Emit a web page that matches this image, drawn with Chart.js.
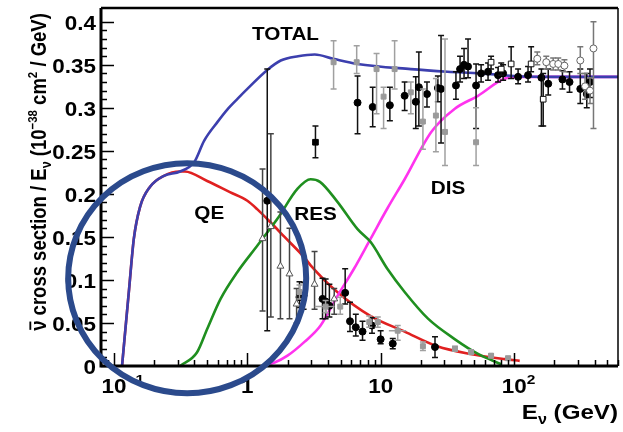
<!DOCTYPE html>
<html>
<head>
<meta charset="utf-8">
<script src="https://cdn.jsdelivr.net/npm/chart.js@4.4.1/dist/chart.umd.min.js"></script>
<style>
  html, body { margin: 0; padding: 0; background: #fff; }
  #wrap { width: 623px; height: 432px; }
</style>
</head>
<body>
<div id="wrap"><canvas id="xsec" width="623" height="432"></canvas></div>
<script>
// axis ticks
const xTickVals = [0.1, 1, 10, 100];
const xTickLabels = [['10', '\u22121'], ['1', ''], ['10', ''], ['10', '2']];
const yTickVals = [0, 0.05, 0.1, 0.15, 0.2, 0.25, 0.3, 0.35, 0.4];
const yTickLabels = ['0', '0.05', '0.1', '0.15', '0.2', '0.25', '0.3', '0.35', '0.4'];

// model curves (E in GeV, cross section / E)
const totalE = [0.115, 0.13, 0.141, 0.157, 0.186, 0.237, 0.313, 0.40, 0.475, 0.6, 0.707, 0.85, 1.0, 1.41, 1.78, 2.4, 3.2, 4.4, 6.7, 16.8, 31.7, 56, 100, 200, 600];
const totalY = [0, 0.09, 0.148, 0.185, 0.208, 0.221, 0.226, 0.237, 0.262, 0.284, 0.298, 0.311, 0.322, 0.344, 0.355, 0.360, 0.362, 0.357, 0.351, 0.345, 0.342, 0.340, 0.337, 0.336, 0.336];
const qeE = [0.115, 0.13, 0.141, 0.157, 0.186, 0.237, 0.313, 0.34, 0.5, 0.74, 1.0, 1.19, 1.49, 1.9, 2.68, 2.98, 4.72, 8.4, 15.1, 26.5, 47, 85, 110];
const qeY = [0, 0.09, 0.148, 0.185, 0.208, 0.221, 0.226, 0.226, 0.215, 0.202, 0.192, 0.182, 0.167, 0.150, 0.126, 0.117, 0.086, 0.058, 0.040, 0.023, 0.014, 0.008, 0.006];
const resE = [0.313, 0.42, 0.50, 0.63, 0.84, 1.19, 1.68, 2.38, 2.98, 3.5, 4.72, 6.7, 8.4, 11.2, 15.1, 22.6, 36, 53.6, 80];
const resY = [0, 0.016, 0.043, 0.078, 0.109, 0.140, 0.171, 0.206, 0.217, 0.214, 0.191, 0.159, 0.144, 0.113, 0.086, 0.055, 0.031, 0.014, 0.002];
const disE = [1.3, 1.6, 2.0, 2.68, 3.54, 4.72, 6.3, 8.4, 11.2, 15.1, 23.9, 35.9, 53.6, 85, 110, 200, 600];
const disY = [0, 0.004, 0.012, 0.028, 0.047, 0.081, 0.113, 0.148, 0.183, 0.217, 0.272, 0.299, 0.314, 0.334, 0.336, 0.336, 0.336];

// measurements: black filled circles
const blackE  = [1.41, 2.46, 2.64, 3.66, 3.86, 4.12, 5.41, 5.88, 6.5, 7.3, 8.6, 9.98, 12.3, 25.5, 6.7, 8.7, 11.7, 15.1, 18.3, 19.3, 22.2, 26.8, 28.3, 36.6, 39.3, 42.1, 45.1, 51.8, 56.5, 63.7, 75.7, 82.6, 107, 127, 160, 180, 230, 260, 313, 350, 370];
const blackY  = [0.192, 0.080, 0.082, 0.078, 0.075, 0.070, 0.085, 0.052, 0.045, 0.040, 0.047, 0.031, 0.026, 0.022, 0.306, 0.301, 0.303, 0.314, 0.307, 0.324, 0.316, 0.323, 0.322, 0.326, 0.345, 0.350, 0.348, 0.326, 0.340, 0.342, 0.338, 0.340, 0.336, 0.338, 0.335, 0.328, 0.333, 0.330, 0.322, 0.316, 0.330];
const blackLo = [0.041, 0.068, 0.066, 0.055, 0.055, 0.057, 0.072, 0.040, 0.035, 0.030, 0.038, 0.026, 0.020, 0.010, 0.270, 0.278, 0.285, 0.297, 0.276, 0.279, 0.301, 0.307, 0.259, 0.310, 0.330, 0.334, 0.335, 0.276, 0.330, 0.332, 0.330, 0.332, 0.328, 0.330, 0.279, 0.315, 0.322, 0.318, 0.305, 0.300, 0.312];
const blackHi = [0.345, 0.098, 0.097, 0.102, 0.101, 0.095, 0.113, 0.074, 0.060, 0.052, 0.056, 0.041, 0.032, 0.034, 0.337, 0.324, 0.324, 0.330, 0.336, 0.365, 0.330, 0.337, 0.384, 0.342, 0.360, 0.369, 0.380, 0.351, 0.350, 0.352, 0.347, 0.350, 0.345, 0.348, 0.345, 0.345, 0.343, 0.342, 0.345, 0.340, 0.345];

// black filled square
const bsqE = [3.24], bsqY = [0.260], bsqLo = [0.242], bsqHi = [0.279];

// grey filled squares
const greyE  = [4.43, 6.6, 9.3, 10.5, 12.7, 16.8, 20.7, 25.9, 30.3, 51.8, 2.46, 3.86, 4.97, 8.2, 9.5, 13.4, 20.7, 36.0, 47.5, 67.1, 90];
const greyY  = [0.353, 0.353, 0.345, 0.313, 0.345, 0.318, 0.284, 0.291, 0.272, 0.260, 0.086, 0.069, 0.069, 0.051, 0.051, 0.041, 0.023, 0.020, 0.016, 0.012, 0.009];
const greyLo = [0.322, 0.340, 0.293, 0.276, 0.322, 0.293, 0.252, 0.249, 0.233, 0.233, 0.078, 0.062, 0.060, 0.045, 0.045, 0.030, 0.018, 0.017, 0.014, 0.010, 0.007];
const greyHi = [0.378, 0.372, 0.363, 0.324, 0.378, 0.330, 0.322, 0.334, 0.380, 0.300, 0.094, 0.076, 0.080, 0.058, 0.057, 0.047, 0.028, 0.023, 0.019, 0.014, 0.011];
const greyXLo = [null, null, null, null, null, null, null, null, null, null, null, 3.2, null, null, null, 11.5, null, null, null, null, null];
const greyXHi = [null, null, null, null, null, null, null, null, null, null, null, 4.5, null, null, null, 15.5, null, null, null, null, null];

// open triangles
const triE  = [1.30, 1.50, 1.77, 2.07, 2.34, 3.19, 4.48];
const triY  = [0.148, 0.162, 0.116, 0.107, 0.072, 0.095, 0.078];
const triLo = [0.064, 0.057, 0.055, 0.055, 0.050, 0.066, 0.060];
const triHi = [0.229, 0.270, 0.179, 0.160, 0.090, 0.133, 0.090];

// open squares
const osqE  = [67.1, 80, 94.9, 134, 165];
const osqY  = [0.353, 0.345, 0.351, 0.351, 0.310];
const osqLo = [0.345, 0.338, 0.334, 0.342, 0.279];
const osqHi = [0.360, 0.352, 0.371, 0.371, 0.340];

// open circles
const ocE  = [149, 174, 196, 214, 238, 313, 340, 370, 393];
const ocY  = [0.357, 0.353, 0.351, 0.351, 0.349, 0.355, 0.325, 0.320, 0.369];
const ocLo = [0.350, 0.345, 0.344, 0.344, 0.342, 0.340, 0.310, 0.305, 0.276];
const ocHi = [0.365, 0.360, 0.358, 0.358, 0.356, 0.371, 0.340, 0.335, 0.400];

// curve labels and the circled region
const curveLabels = [['TOTAL', 1.93, 0.387], ['QE', 0.518, 0.179], ['RES', 3.24, 0.178], ['DIS', 31.9, 0.208]];
const ringCentre = [0.354, 0.102];

const FONT = '"Liberation Sans", Arial, sans-serif';
const SX = 1.15;

function curve(E, Y) {
  return E.map((e, i) => ({ x: e, y: Y[i] }));
}
function pts(E, Y, lo, hi, xlo, xhi) {
  return E.map((e, i) => ({
    x: e, y: Y[i], yMin: lo[i], yMax: hi[i],
    xMin: xlo ? xlo[i] : null, xMax: xhi ? xhi[i] : null
  }));
}

// rich text: parts = [text, size, raise, bar]
function rich(ctx, parts, x, y, align, rot) {
  let w = 0, w0 = 0;
  parts.forEach((p, i) => {
    ctx.font = 'bold ' + p[1] + 'px ' + FONT;
    const m = ctx.measureText(p[0]).width;
    if (i === 0) w0 = m;
    w += m;
  });
  ctx.save();
  ctx.translate(x, y);
  if (rot) { ctx.rotate(-Math.PI / 2); ctx.scale(1, SX); }
  else ctx.scale(SX, 1);
  let cx = 0;
  if (align === 'center') cx = -w / 2;
  if (align === 'right') cx = -w;
  if (align === 'first') cx = -w0 / 2;
  ctx.fillStyle = '#000';
  ctx.textBaseline = 'alphabetic';
  parts.forEach(p => {
    ctx.font = 'bold ' + p[1] + 'px ' + FONT;
    const m = ctx.measureText(p[0]).width;
    ctx.fillText(p[0], cx, -(p[2] || 0));
    if (p[3]) {
      ctx.fillRect(cx + 1, -p[1] * 0.78, m - 2, 1.6);
    }
    cx += m;
  });
  ctx.restore();
}

const errorBars = {
  id: 'errorBars',
  beforeDatasetDraw(chart, args) {
    const ds = chart.data.datasets[args.index];
    if (!ds.errColor) return;
    const { ctx, chartArea: a } = chart;
    const x = chart.scales.x, y = chart.scales.y;
    ctx.save();
    ctx.beginPath();
    ctx.rect(a.left, a.top, a.right - a.left, a.bottom - a.top);
    ctx.clip();
    ctx.strokeStyle = ds.errColor;
    ctx.lineWidth = 1.5;
    ds.data.forEach(p => {
      const px = x.getPixelForValue(p.x), py = y.getPixelForValue(p.y);
      ctx.beginPath();
      if (p.yMin != null) {
        const y0 = y.getPixelForValue(p.yMin), y1 = y.getPixelForValue(p.yMax);
        ctx.moveTo(px, y0); ctx.lineTo(px, y1);
        ctx.moveTo(px - 3, y0); ctx.lineTo(px + 3, y0);
        ctx.moveTo(px - 3, y1); ctx.lineTo(px + 3, y1);
      }
      if (p.xMin != null) {
        const x0 = x.getPixelForValue(p.xMin), x1 = x.getPixelForValue(p.xMax);
        ctx.moveTo(x0, py); ctx.lineTo(x1, py);
      }
      ctx.stroke();
    });
    ctx.restore();
  }
};

const frame = {
  id: 'frame',
  afterDraw(chart) {
    const { ctx, chartArea: a } = chart;
    const x = chart.scales.x, y = chart.scales.y;
    ctx.save();
    ctx.strokeStyle = '#000';
    ctx.fillStyle = '#000';

    // ticks inside the frame
    ctx.lineWidth = 1.5;
    ctx.beginPath();
    for (let v = 0; v <= 0.41; v += 0.01) {
      const py = Math.round(y.getPixelForValue(v)) + 0.5;
      const major = Math.abs(v * 20 - Math.round(v * 20)) < 1e-6;
      ctx.moveTo(a.left, py); ctx.lineTo(a.left + (major ? 13 : 6), py);
    }
    for (let d = 0.01; d < 1000; d *= 10) {
      for (let k = 1; k <= 9; k++) {
        const v = k * d;
        if (v < x.min || v > x.max) continue;
        const px = Math.round(x.getPixelForValue(v)) + 0.5;
        ctx.moveTo(px, a.bottom); ctx.lineTo(px, a.bottom - (k === 1 ? 13 : 6));
      }
    }
    ctx.stroke();

    // frame lines
    ctx.lineWidth = 3;
    ctx.beginPath();
    ctx.moveTo(a.left, a.top); ctx.lineTo(a.left, a.bottom); ctx.lineTo(a.right, a.bottom);
    ctx.stroke();
    ctx.lineWidth = 2.5;
    ctx.beginPath(); ctx.moveTo(a.left, a.top); ctx.lineTo(a.right, a.top); ctx.stroke();
    ctx.lineWidth = 1.5;
    ctx.beginPath(); ctx.moveTo(a.right, a.top); ctx.lineTo(a.right, a.bottom); ctx.stroke();

    // tick labels
    yTickVals.forEach((v, i) => {
      rich(ctx, [[yTickLabels[i], 19.5]], a.left - 5, y.getPixelForValue(v) + 8, 'right');
    });
    xTickVals.forEach((v, i) => {
      const lab = xTickLabels[i];
      const parts = [[lab[0], 19.5]];
      if (lab[1]) parts.push([lab[1], 13.5, 9]);
      rich(ctx, parts, x.getPixelForValue(v), 393, 'first');
    });

    // axis titles
    rich(ctx, [['E', 21], ['ν', 14, -5], [' (GeV)', 21]], 618, 419, 'right');
    rich(ctx, [['ν', 18.5, 0, true], [' cross section / E', 18.5], ['ν', 12.5, -4],
      [' (10', 18.5], ['\u221238', 11.5, 8], [' cm', 18.5], ['2', 11.5, 8], [' / GeV)', 18.5]],
      46, 172, 'center', true);

    // curve labels
    curveLabels.forEach(l => {
      rich(ctx, [[l[0], 18]], x.getPixelForValue(l[1]), y.getPixelForValue(l[2]) + 7, 'center');
    });

    // circled region
    ctx.strokeStyle = '#2b4a8c';
    ctx.lineWidth = 6;
    ctx.beginPath();
    ctx.ellipse(x.getPixelForValue(ringCentre[0]), y.getPixelForValue(ringCentre[1]), 119, 115, 0, 0, Math.PI * 2);
    ctx.stroke();
    ctx.restore();
  }
};

const lineDs = (E, Y, color, order) => ({
  data: curve(E, Y), showLine: true, borderColor: color, borderWidth: 2.6,
  pointRadius: 0, cubicInterpolationMode: 'monotone', order: order
});
const pointDs = (data, style, bg, border, r, err) => ({
  data: data, showLine: false, pointStyle: style, pointRadius: r,
  backgroundColor: bg, borderColor: border, pointBorderWidth: 1, errColor: err, order: 0
});

new Chart(document.getElementById('xsec'), {
  type: 'scatter',
  data: {
    datasets: [
      lineDs(qeE, qeY, '#e02020', 4),
      lineDs(disE, disY, '#ff33ee', 3),
      lineDs(resE, resY, '#1f8f1f', 2),
      lineDs(totalE, totalY, '#3c3fae', 1),
      pointDs(pts(greyE, greyY, greyLo, greyHi, greyXLo, greyXHi), 'rect', '#9a9a9a', '#9a9a9a', 3.5, '#a0a0a0'),
      pointDs(pts(ocE, ocY, ocLo, ocHi), 'circle', '#fff', '#666', 3.5, '#777'),
      pointDs(pts(triE, triY, triLo, triHi), 'triangle', '#fff', '#555', 4, '#444'),
      pointDs(pts(osqE, osqY, osqLo, osqHi), 'rect', '#fff', '#111', 4, '#111'),
      pointDs(pts(blackE, blackY, blackLo, blackHi), 'circle', '#000', '#000', 3.5, '#111'),
      pointDs(pts(bsqE, bsqY, bsqLo, bsqHi), 'rect', '#000', '#000', 4, '#111')
    ]
  },
  options: {
    responsive: false,
    animation: false,
    devicePixelRatio: 1,
    layout: { padding: { top: 8, right: 3, left: 0, bottom: 0 } },
    plugins: { legend: { display: false }, tooltip: { enabled: false } },
    scales: {
      x: {
        type: 'logarithmic', min: 0.08, max: 600,
        grid: { display: false }, border: { display: false },
        ticks: { display: false },
        afterFit: (s) => { s.height = 66; }
      },
      y: {
        min: 0, max: 0.416,
        grid: { display: false }, border: { display: false },
        ticks: { display: false },
        afterFit: (s) => { s.width = 101; }
      }
    }
  },
  plugins: [errorBars, frame]
});
</script>
</body>
</html>
